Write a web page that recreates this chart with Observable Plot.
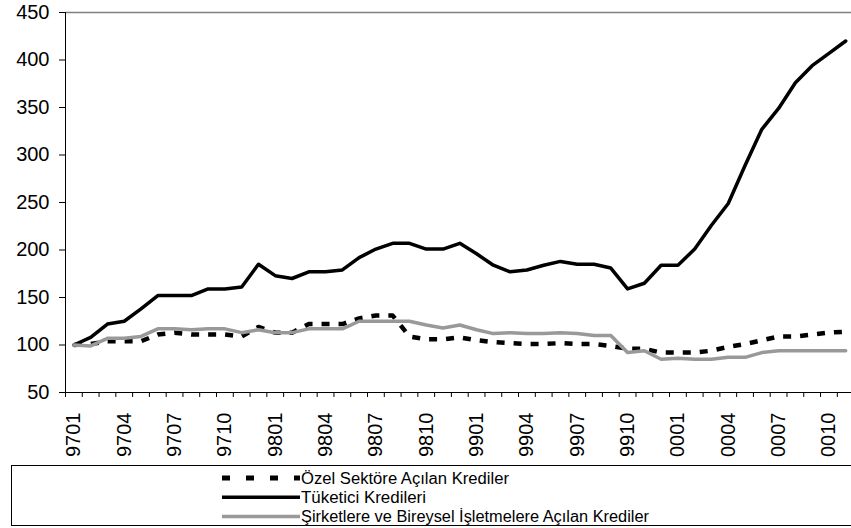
<!DOCTYPE html>
<html>
<head>
<meta charset="utf-8">
<script src="https://cdn.jsdelivr.net/npm/d3@7"></script>
<script src="https://cdn.jsdelivr.net/npm/@observablehq/plot@0.6"></script>
<style>
  html, body { margin: 0; padding: 0; background: #fff; }
  body { font-family: "Liberation Sans", Arial, sans-serif; width: 851px; height: 528px; overflow: hidden; }
  #chart svg, #legend svg { display: block; }
</style>
</head>
<body>
<div id="chart"></div>
<div id="legend"></div>
<script>
// Months (YYMM), one per data point
const months = ["9701","9702","9703","9704","9705","9706","9707","9708","9709","9710","9711","9712",
                "9801","9802","9803","9804","9805","9806","9807","9808","9809","9810","9811","9812",
                "9901","9902","9903","9904","9905","9906","9907","9908","9909","9910","9911","9912",
                "0001","0002","0003","0004","0005","0006","0007","0008","0009","0010","0011"];
// Labelled ticks on the x axis
const tickLabels = ["9701","9704","9707","9710","9801","9804","9807","9810","9901","9904","9907","9910","0001","0004","0007","0010"];
// Y axis ticks
const yTicks = [50,100,150,200,250,300,350,400,450];

// Series names
const seriesNames = ["Özel Sektöre Açılan Krediler", "Tüketici Kredileri", "Şirketlere ve Bireysel İşletmelere Açılan Krediler"];

// Series values (index, 9701 = 100)
const ozel = [100,101,104,104,104,111,113,111,111,111,109,119,113,113,122,122,122,128,131,131,109,106,106,108,
              105,103,102,101,101,102,101,101,99,96,96,92,92,92,94,98,101,105,109,109,111,113,114];
const tuketici = [100,108,122,125,138,152,152,152,159,159,161,185,173,170,177,177,179,192,201,207,207,201,201,207,
                  196,184,177,179,184,188,185,185,181,159,165,184,184,201,226,249,289,327,349,376,394,407,420];
const sirket = [100,99,107,107,109,117,117,116,117,117,113,116,113,113,117,117,117,125,125,125,125,121,118,121,
                116,112,113,112,112,113,112,110,110,92,94,85,86,85,85,87,87,92,94,94,94,94,94];

const rows = vals => vals.map((v, i) => ({i, month: months[i], v}));
// category boundaries (Excel style tick marks between categories)
const boundaries = d3.range(months.length + 1).map(k => k - 0.5);
const labelIdx = tickLabels.map(m => months.indexOf(m));

const font = "Liberation Sans, Arial, sans-serif";

const chart = Plot.plot({
  width: 851,
  height: 460,
  marginLeft: 65,
  marginRight: 0,
  marginTop: 12,
  marginBottom: 68,
  style: {fontFamily: font, background: "#fff", color: "#000"},
  x: {type: "linear", domain: [-0.5, months.length - 0.5], range: [65, 853.6]},
  y: {domain: [50, 450]},
  marks: [
    Plot.ruleY([450], {stroke: "#808080", strokeWidth: 1.5}),
    Plot.axisY({ticks: yTicks, tickSize: 6, tickPadding: 10, fontSize: 20, label: null, tickFormat: d => String(d)}),
    Plot.axisX({ticks: boundaries, tickSize: 5, tickFormat: () => "", label: null}),
    Plot.axisX({ticks: labelIdx, tickSize: 0, tickPadding: 20, tickRotate: -90, fontSize: 20,
                tickFormat: i => months[i], label: null}),
    Plot.ruleX([-0.5], {stroke: "#000", strokeWidth: 1}),
    Plot.ruleY([50], {stroke: "#000", strokeWidth: 1}),
    Plot.line(rows(ozel), {x: "i", y: "v", stroke: "#000", strokeWidth: 4.5, strokeDasharray: "8,9", strokeLinecap: "butt"}),
    Plot.line(rows(tuketici), {x: "i", y: "v", stroke: "#000", strokeWidth: 3.5}),
    Plot.line(rows(sirket), {x: "i", y: "v", stroke: "#999999", strokeWidth: 3.5})
  ]
});
document.getElementById("chart").appendChild(chart);

// Legend below the chart
const legendStyles = [
  {stroke: "#000", width: 5, dash: "8,16"},
  {stroke: "#000", width: 3.5, dash: null},
  {stroke: "#999999", width: 3.5, dash: null}
];
const textWidths = [208, 125, 348];
const lg = d3.select("#legend").append("svg").attr("width", 851).attr("height", 68);
lg.append("rect").attr("x", 11.5).attr("y", 5.5).attr("width", 850).attr("height", 60)
  .attr("fill", "#fff").attr("stroke", "#000").attr("stroke-width", 1);
seriesNames.forEach((name, k) => {
  const cy = 18 + k * 19.3;
  const st = legendStyles[k];
  const ln = lg.append("line").attr("x1", 222).attr("x2", 300).attr("y1", cy).attr("y2", cy)
    .attr("stroke", st.stroke).attr("stroke-width", st.width);
  if (st.dash) ln.attr("stroke-dasharray", st.dash);
  lg.append("text").attr("x", 301).attr("y", cy).attr("dy", "0.36em")
    .attr("font-family", font).attr("font-size", 16)
    .attr("textLength", textWidths[k]).attr("lengthAdjust", "spacingAndGlyphs")
    .text(name);
});
</script>
</body>
</html>
